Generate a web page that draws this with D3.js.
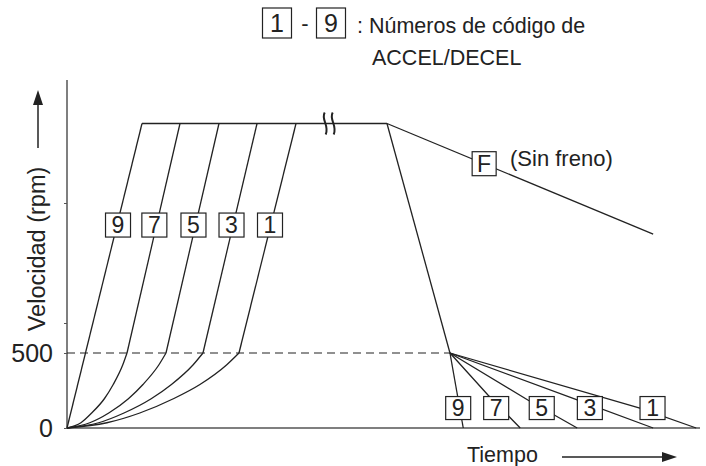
<!doctype html>
<html lang="es">
<head>
<meta charset="utf-8">
<title>ACCEL/DECEL</title>
<style>
  body { margin: 0; background: #fff; }
  svg text { font-family: "Liberation Sans", Arial, sans-serif; }
</style>
</head>
<body>
<svg id="chart" width="706" height="466"></svg>
<script src="https://cdnjs.cloudflare.com/ajax/libs/d3/7.8.5/d3.min.js"></script>
<script>
// time in arbitrary units, speed in rpm
var plateauRpm = 2030;
var yTicks = [0, 500, 700, 1500];
var yTickLabels = ["0", "500", "", ""];

var accelCodes = ["9", "7", "5", "3", "1"];
var accelLower = [
  [[0, 0], [11.85, 2030]],
  [[0, 0], [2.2, 35], [3.9, 100], [5.9, 195], [7.3, 290], [8.8, 420], [9.48, 500]],
  [[0, 0], [3.6, 35], [6.6, 100], [9.7, 195], [12.0, 290], [14.5, 420], [15.64, 500]],
  [[0, 0], [5.0, 35], [9.0, 100], [13.3, 195], [16.5, 290], [19.9, 420], [21.48, 500]],
  [[0, 0], [6.3, 35], [11.5, 100], [16.8, 195], [21.0, 290], [25.2, 420], [27.17, 500]]
];
var accelTop = [11.85, 17.85, 24.01, 30.02, 36.18];
var accelLabelT = [8.06, 13.8, 19.98, 25.99, 32.07];
var accelLabelRpm = 1353;

var plateau = [[11.85, 2030], [50.55, 2030]];
var mainDecel = [[50.55, 2030], [60.5, 500]];
var noBrake = [[50.55, 2030], [92.6, 1293]];
var noBrakeLabel = [65.9, 1762];
var breakT = 41.5;

var decelCodes = ["9", "7", "5", "3", "1"];
var decelLines = [
  [[60.5, 500], [62.6, 0]],
  [[60.5, 500], [66.5, 220], [71.6, 0]],
  [[60.5, 500], [72.8, 187], [80.6, 0]],
  [[60.5, 500], [80.6, 187], [92.6, 0]],
  [[60.5, 500], [90.5, 133], [99.4, 0]]
];
var decelLabelT = [61.8, 67.8, 75.0, 82.6, 92.5];
var decelLabelRpm = 133;

var font = "Liberation Sans, Arial, sans-serif";
var svg = d3.select("#chart").attr("font-family", font);
var x = d3.scaleLinear().domain([0, 100]).range([67, 700]);
var y = d3.scaleLinear().domain([0, 2320]).range([428, 80]);
var ink = "#222";

var line = d3.line().x(function (d) { return x(d[0]); }).y(function (d) { return y(d[1]); });
var curve = d3.line().x(function (d) { return x(d[0]); }).y(function (d) { return y(d[1]); }).curve(d3.curveMonotoneX);

// axes
var yAxis = d3.axisLeft(y).tickValues(yTicks).tickSize(3).tickFormat(function (d, i) { return ""; });
svg.append("g").attr("transform", "translate(67,0)").call(yAxis)
  .call(function (g) { g.selectAll("line").attr("stroke", "#555"); g.select(".domain").remove(); });
svg.append("line").attr("x1", 67).attr("x2", 67).attr("y1", y.range()[1]).attr("y2", y(0))
  .attr("stroke", "#555").attr("stroke-width", 1.5);
svg.append("line").attr("x1", x(0)).attr("x2", x(100)).attr("y1", y(0)).attr("y2", y(0))
  .attr("stroke", "#555").attr("stroke-width", 1.5);

svg.selectAll(".ylab").data(yTicks).enter().append("text")
  .attr("class", "ylab")
  .attr("x", 53).attr("y", function (d) { return y(d); }).attr("dy", "0.36em")
  .attr("text-anchor", "end").attr("font-family", font).attr("font-size", 25).attr("fill", ink)
  .text(function (d, i) { return yTickLabels[i]; });

// dashed 500 line
svg.append("line").attr("x1", x(0)).attr("x2", x(mainDecel[1][0])).attr("y1", y(500)).attr("y2", y(500))
  .attr("stroke", ink).attr("stroke-width", 1.2).attr("stroke-dasharray", "8,5");

var g = svg.append("g").attr("fill", "none").attr("stroke", ink).attr("stroke-width", 1.3);

accelLower.forEach(function (pts, i) {
  if (pts.length == 2) {
    g.append("path").attr("d", line(pts));
  } else {
    g.append("path").attr("d", curve(pts));
    g.append("path").attr("d", line([pts[pts.length - 1], [accelTop[i], plateauRpm]]));
  }
});
g.append("path").attr("d", line(plateau));
g.append("path").attr("d", line(mainDecel));
g.append("path").attr("d", line(noBrake));
decelLines.forEach(function (pts) { g.append("path").attr("d", line(pts)); });

// break mark
[-4, 4].forEach(function (dx) {
  var cx = x(breakT) + dx, cy = y(plateauRpm);
  svg.append("path")
    .attr("d", "M" + (cx - 1) + "," + (cy - 11) + " C" + (cx - 5) + "," + (cy - 4) + " " + (cx + 4) + "," + (cy + 2) + " " + (cx) + "," + (cy + 11))
    .attr("fill", "none").attr("stroke", ink).attr("stroke-width", 2);
});

function codeBox(cx, cy, label, w, h, fs) {
  svg.append("rect").attr("x", cx - w / 2).attr("y", cy - h / 2).attr("width", w).attr("height", h)
    .attr("fill", "#fff").attr("stroke", ink).attr("stroke-width", 1.2);
  svg.append("text").attr("x", cx).attr("y", cy).attr("dy", "0.36em").attr("text-anchor", "middle")
    .attr("font-family", font).attr("font-size", fs).attr("fill", ink).text(label);
}

accelCodes.forEach(function (c, i) { codeBox(x(accelLabelT[i]), y(accelLabelRpm), c, 25, 24, 23); });
decelCodes.forEach(function (c, i) { codeBox(x(decelLabelT[i]), y(decelLabelRpm), c, 25, 23, 23); });
codeBox(x(noBrakeLabel[0]), y(noBrakeLabel[1]), "F", 24, 24, 23);
svg.append("text").attr("x", 510).attr("y", y(noBrakeLabel[1])).attr("dy", "0.12em")
  .attr("font-family", font).attr("font-size", 22).attr("fill", ink).text("(Sin freno)");

// legend
codeBox(277, 23, "1", 29, 30, 25);
svg.append("text").attr("x", 305).attr("y", 23).attr("dy", "0.36em").attr("text-anchor", "middle")
  .attr("font-family", font).attr("font-size", 22).attr("fill", ink).text("-");
codeBox(331, 23, "9", 29, 30, 25);
svg.append("text").attr("x", 357).attr("y", 33).attr("font-family", font).attr("font-size", 21.5).attr("fill", ink)
  .text(": Números de código de");
svg.append("text").attr("x", 372).attr("y", 65).attr("font-family", font).attr("font-size", 21.5).attr("fill", ink)
  .text("ACCEL/DECEL");

// y label + arrow
svg.append("text").attr("transform", "translate(45,249) rotate(-90)").attr("text-anchor", "middle")
  .attr("font-family", font).attr("font-size", 23.5).attr("fill", ink).text("Velocidad (rpm)");
svg.append("line").attr("x1", 38).attr("x2", 38).attr("y1", 148).attr("y2", 104)
  .attr("stroke", ink).attr("stroke-width", 1.5);
svg.append("path").attr("d", "M38,90 L33,105 L43,105 Z").attr("fill", ink);

// x label + arrow
svg.append("text").attr("x", 467).attr("y", 462).attr("font-family", font).attr("font-size", 21.5).attr("fill", ink).text("Tiempo");
svg.append("line").attr("x1", 562).attr("x2", 664).attr("y1", 457).attr("y2", 457)
  .attr("stroke", ink).attr("stroke-width", 1.5);
svg.append("path").attr("d", "M677,457 L662,452 L662,462 Z").attr("fill", ink);
</script>
</body>
</html>
